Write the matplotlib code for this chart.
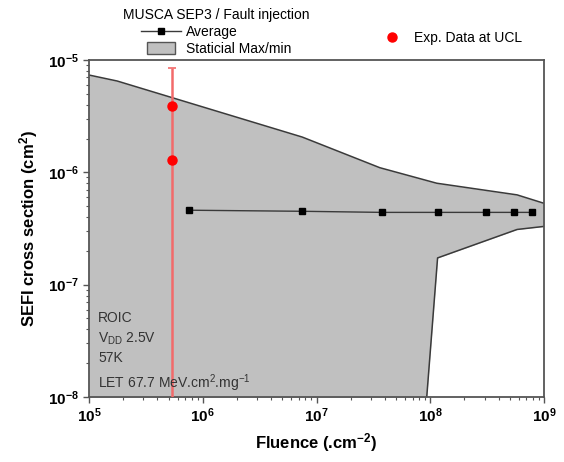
import matplotlib

matplotlib.use("Agg")
import numpy as np
import matplotlib.pyplot as plt
from matplotlib.lines import Line2D
from matplotlib.patches import Patch, Rectangle
from matplotlib.legend_handler import HandlerPatch
from matplotlib.ticker import FuncFormatter, LogLocator

plt.rcParams["font.family"] = ["Liberation Sans", "DejaVu Sans"]
plt.rcParams["mathtext.fontset"] = "custom"
plt.rcParams["mathtext.rm"] = "Liberation Sans"
plt.rcParams["mathtext.bf"] = "Liberation Sans:bold"
plt.rcParams["mathtext.default"] = "regular"

# statistical envelope (max / min) from fault injection
env_x_hi = [1e5, 1.77e5, 7.5e6, 3.6e7, 1.14e8, 5.8e8, 1e9]
env_hi = [7.35e-6, 6.5e-6, 2.06e-6, 1.1e-6, 8.0e-7, 6.3e-7, 5.3e-7]
env_x_lo = [1e5, 7.8e7, 1.16e8, 5.8e8, 1e9]
env_lo = [1e-9, 1e-9, 1.73e-7, 3.1e-7, 3.3e-7]

# average SEFI cross section
avg_x = [7.6e5, 7.5e6, 3.8e7, 1.16e8, 3.1e8, 5.4e8, 7.8e8]
avg_y = [4.6e-7, 4.5e-7, 4.4e-7, 4.4e-7, 4.4e-7, 4.4e-7, 4.4e-7]

# UCL measurements
exp_x = [5.4e5, 5.4e5]
exp_y = [3.9e-6, 1.3e-6]
exp_err_top = 8.5e-6
exp_err_bottom = 1e-9

fig = plt.figure(figsize=(5.64, 4.62), dpi=100)
ax = fig.add_axes([89 / 564, 1 - 397 / 462, 455 / 564, 337 / 462])
ax.set_xscale("log")
ax.set_yscale("log")

# fill envelope on a common grid of x points
gx = np.array(sorted(set(env_x_hi + env_x_lo)))
hi_i = 10 ** np.interp(np.log10(gx), np.log10(env_x_hi), np.log10(env_hi))
lo_i = 10 ** np.interp(np.log10(gx), np.log10(env_x_lo), np.log10(env_lo))
ax.fill_between(gx, lo_i, hi_i, color="#c0c0c0", linewidth=0, zorder=1)
ax.plot(env_x_hi, env_hi, color="#3a3a3a", lw=1.1, zorder=2)
ax.plot(env_x_lo, env_lo, color="#3a3a3a", lw=1.1, zorder=2)

ax.plot(avg_x, avg_y, color="#3a3a3a", lw=1.0, marker="s", ms=5,
        mfc="black", mec="black", zorder=4)

ax.errorbar([exp_x[0]], [exp_y[0]],
            yerr=[[exp_y[0] - exp_err_bottom], [exp_err_top - exp_y[0]]],
            fmt="none", ecolor="#f26a6a", elinewidth=1.8, capsize=3,
            capthick=1.2, zorder=3)
ax.plot(exp_x, exp_y, "o", color="red", ms=6.5, mec="red", zorder=5)

ax.set_xlim(1e5, 1e9)
ax.set_ylim(1e-8, 1e-5)

dec_fmt = FuncFormatter(lambda v, p: r"$\mathbf{10^{%d}}$" % round(np.log10(v)))
ax.xaxis.set_major_locator(LogLocator(base=10, numticks=10))
ax.yaxis.set_major_locator(LogLocator(base=10, numticks=10))
ax.xaxis.set_major_formatter(dec_fmt)
ax.yaxis.set_major_formatter(dec_fmt)

for s in ax.spines.values():
    s.set_color("#555555")
    s.set_linewidth(1.3)
ax.tick_params(which="major", direction="out", length=4, width=1,
               color="#555555", labelsize=11, pad=3)
ax.tick_params(which="minor", direction="out", length=2.5, width=0.8,
               color="#555555")

ax.set_xlabel("Fluence (.cm$^{-2}$)", fontsize=12, fontweight="bold",
              labelpad=4)
ax.set_ylabel("SEFI cross section (cm$^{2}$)", fontsize=12,
              fontweight="bold", labelpad=6)

info = ["ROIC", "V$_{DD}$ 2.5V", "57K", "LET 67.7 MeV.cm$^{2}$.mg$^{-1}$"]
info_y = [318, 339, 358, 383]
for t, y in zip(info, info_y):
    fig.text(98 / 564, 1 - y / 462, t, fontsize=10, color="#333333",
             va="center", ha="left")


def narrow_box(legend, orig_handle, xdescent, ydescent, width, height,
               fontsize):
    return Rectangle((-xdescent + 0.15 * width, -ydescent - 0.15 * height),
                     0.7 * width, 1.3 * height)


h_avg = Line2D([], [], color="#3a3a3a", lw=1.0, marker="s", ms=5,
               mfc="black", mec="black")
h_env = Patch(facecolor="#c0c0c0", edgecolor="#555555", linewidth=1.0)
fig.legend([h_avg, h_env], ["Average", "Staticial Max/min"],
           title="MUSCA SEP3 / Fault injection", title_fontsize=10,
           fontsize=10, loc="upper center",
           bbox_to_anchor=(216 / 564, 1.0), frameon=False,
           handlelength=2.9, handletextpad=0.35, labelspacing=0.2,
           borderpad=0.1,
           handler_map={Patch: HandlerPatch(patch_func=narrow_box)})

h_exp = Line2D([], [], ls="none", marker="o", color="red", ms=6.5)
fig.legend([h_exp], ["Exp. Data at UCL"], fontsize=10, loc="center left",
           bbox_to_anchor=(375 / 564, 1 - 38 / 462), frameon=False,
           handlelength=1.2, handletextpad=1.0, borderpad=0.1)

fig.savefig("out.png", dpi=100)
